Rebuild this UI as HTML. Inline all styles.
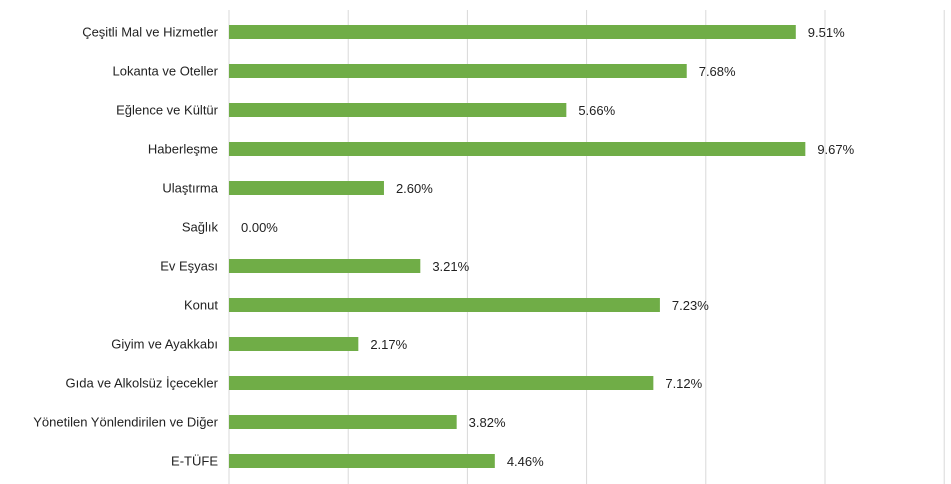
<!DOCTYPE html>
<html><head><meta charset="utf-8"><style>
body{margin:0;background:#fff;}
svg{display:block;font-family:"Liberation Sans",sans-serif;}
</style></head><body>
<svg id="c" width="951" height="484"></svg>
<script>
const categories=["Çeşitli Mal ve Hizmetler","Lokanta ve Oteller","Eğlence ve Kültür","Haberleşme","Ulaştırma","Sağlık","Ev Eşyası","Konut","Giyim ve Ayakkabı","Gıda ve Alkolsüz İçecekler","Yönetilen Yönlendirilen ve Diğer","E-TÜFE"];
const values=[9.51,7.68,5.66,9.67,2.60,0.00,3.21,7.23,2.17,7.12,3.82,4.46];
const gridTicks=[0,2,4,6,8,10,12];
const svg=document.getElementById('c');
const NS='http://www.w3.org/2000/svg';
const x0=229,pxPer=59.6;
const X=v=>x0+v*pxPer;
const Y=i=>32+i*39;
function mk(t,a){const e=document.createElementNS(NS,t);for(const k in a)e.setAttribute(k,a[k]);svg.appendChild(e);return e;}
gridTicks.forEach(t=>{
 const l=mk('line',{x1:X(t),x2:X(t),y1:10,y2:484,stroke:'#d9d9d9','stroke-width':1});
 
 
});
categories.forEach((c,i)=>{
 const lb=mk('text',{x:218,y:Y(i)+4.5,'text-anchor':'end','font-size':13,fill:'#222'});
 lb.textContent=c;
 
 
 const r=mk('rect',{x:X(0),y:Y(i)-7,width:Math.max(0,X(values[i])-X(0)),height:14,fill:'#70ad47'});
 
 
 const v=mk('text',{x:X(values[i])+12,y:Y(i)+5,'font-size':13,fill:'#222'});
 v.textContent=values[i].toFixed(2)+'%';
 
 
});
</script>
</body></html>
